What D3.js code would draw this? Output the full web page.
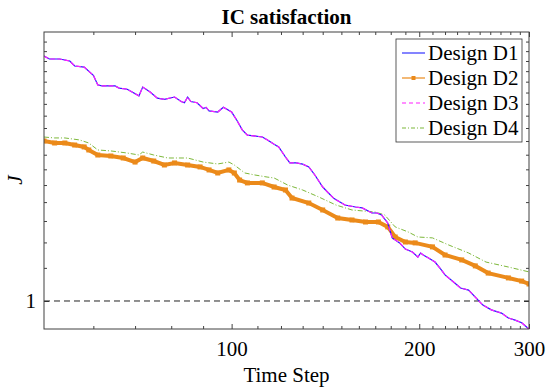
<!DOCTYPE html>
<html>
<head>
<meta charset="utf-8">
<script src="https://cdn.jsdelivr.net/npm/d3@7"></script>
<style>
body{margin:0;background:#fff}
text{font-family:"Liberation Serif","Times New Roman",serif;fill:#000}
</style>
</head>
<body>
<script>
// time steps and J values
var stepsD1 = [50,51,53,55,56,58,60,61,62,65,66,68,71,72,74,76,78,81,83,84,85,86,88,90,91,92,95,97,100,102,104,106,112,114,117,119,122,124,127,130,133,136,140,143,146,152,158,162,168,171,174,178,181,186,190,195,199,201,203,207,212,217,220,227,233,240,246,253,261,271,278,285,292,300];
var jD1 = [16.5,16.2,16.2,16.0,15.5,15.4,14.6,13.7,13.6,13.6,13.4,13.3,12.7,13.5,13.05,12.5,12.4,12.6,12.2,12.1,12.6,12.2,12.1,11.6,11.7,11.4,11.3,11.7,11.3,10.6,9.85,9.45,9.3,9.1,8.75,8.56,7.84,7.43,7.43,7.35,7.16,6.63,5.88,5.52,5.2,4.84,4.73,4.68,4.41,4.41,4.31,3.90,3.20,2.98,2.72,2.60,2.40,2.56,2.48,2.36,2.21,1.93,1.76,1.53,1.35,1.29,1.10,0.90,0.79,0.72,0.62,0.58,0.53,0.42];

var stepsD2 = [50,52,54,56,58,59,61,64,67,70,72,75,78,81,85,89,92,95,99,101,103,106,112,117,122,125,133,140,148,156,164,172,178,183,190,197,210,220,234,246,258,278,292,300];
var jD2 = [9.0,8.85,8.85,8.70,8.56,8.34,7.98,7.91,7.77,7.49,7.77,7.56,7.29,7.43,7.29,7.16,6.96,6.76,6.96,6.76,6.31,6.13,6.13,5.88,5.70,5.23,4.95,4.57,4.15,4.05,3.95,3.95,3.71,3.24,3.02,2.98,2.81,2.48,2.29,2.07,1.82,1.66,1.56,1.47];

// D3 lies on top of D1
var stepsD3 = stepsD1.slice();
var jD3 = jD1.slice();

var stepsD4 = [50,52,54,57,59,61,64,68,71,72,75,79,85,90,95,99,101,105,109,114,117,123,130,138,147,156,170,176,183,192,199,210,223,240,256,278,300];
var jD4 = [9.30,9.23,9.23,9.08,8.85,8.34,8.27,8.12,7.98,8.19,7.98,7.77,7.77,7.49,7.36,7.49,7.29,6.76,6.63,6.50,6.44,6.00,5.70,5.29,4.84,4.57,4.46,4.31,3.71,3.47,3.24,3.20,2.89,2.56,2.21,2.03,1.86];

var xMajor = [100,200,300];
var xMinor = d3.range(60,300,10).filter(function(d){return xMajor.indexOf(d)<0;});
var yMajor = [1];
var yMinor = d3.range(2,19);
var refLevel = 1;
var names = ["Design D1","Design D2","Design D3","Design D4"];

var width=550, height=389;
var L=44, R=529, T=32, B=329;
var axisColor="#404040";

var svg=d3.select("body").append("svg")
  .attr("width",width).attr("height",height);

var x=d3.scaleLog().domain([50,300]).range([L,R]);
var y=d3.scalePow().exponent(0.5).domain([0.4225,19.03]).range([B,T]);

svg.append("clipPath").attr("id","plot")
  .append("rect").attr("x",L).attr("y",T).attr("width",R-L).attr("height",B-T);

function styleAxis(g){
  g.select(".domain").remove();
  g.selectAll("line").attr("stroke",axisColor);
  g.selectAll("text").style("font-size","21px").attr("fill","#000");
}

// bottom
svg.append("g").attr("transform","translate(0,"+B+")")
  .call(d3.axisBottom(x).tickValues(xMinor).tickSize(-3).tickFormat(""))
  .call(styleAxis);
svg.append("g").attr("transform","translate(0,"+B+")")
  .call(d3.axisBottom(x).tickValues(xMajor).tickSize(-5).tickPadding(12).tickFormat(d3.format("d")))
  .call(styleAxis);
// top
svg.append("g").attr("transform","translate(0,"+T+")")
  .call(d3.axisTop(x).tickValues(xMinor).tickSize(-3).tickFormat(""))
  .call(styleAxis);
svg.append("g").attr("transform","translate(0,"+T+")")
  .call(d3.axisTop(x).tickValues(xMajor).tickSize(-5).tickFormat(""))
  .call(styleAxis);
// left
svg.append("g").attr("transform","translate("+L+",0)")
  .call(d3.axisLeft(y).tickValues(yMinor).tickSize(-3).tickFormat(""))
  .call(styleAxis);
svg.append("g").attr("transform","translate("+L+",0)")
  .call(d3.axisLeft(y).tickValues(yMajor).tickSize(-5).tickPadding(8).tickFormat(d3.format("d")))
  .call(styleAxis);
// right
svg.append("g").attr("transform","translate("+R+",0)")
  .call(d3.axisRight(y).tickValues(yMinor).tickSize(-3).tickFormat(""))
  .call(styleAxis);
svg.append("g").attr("transform","translate("+R+",0)")
  .call(d3.axisRight(y).tickValues(yMajor).tickSize(-5).tickFormat(""))
  .call(styleAxis);

// reference line J = 1
svg.append("line")
  .attr("x1",L).attr("x2",R).attr("y1",y(refLevel)).attr("y2",y(refLevel))
  .attr("stroke","#222").attr("stroke-width",1).attr("stroke-dasharray","6,4");

var plot=svg.append("g").attr("clip-path","url(#plot)");

function lineOf(steps,vals){
  return d3.line().x(function(d,i){return x(steps[i]);}).y(function(d){return y(d);})(vals);
}

var series=[
  {steps:stepsD1, vals:jD1, color:"#1f1fff", width:1.2, dash:null},
  {steps:stepsD2, vals:jD2, color:"#eb8a1a", width:4, dash:null, marker:true},
  {steps:stepsD3, vals:jD3, color:"#ff1fff", width:1.2, dash:"5,2"},
  {steps:stepsD4, vals:jD4, color:"#7db83a", width:1, dash:"5,2,1,2"}
];

// draw D4, D2, then D1 and D3 on top
[3,1,0,2].forEach(function(k){
  var s=series[k];
  plot.append("path").attr("d",lineOf(s.steps,s.vals))
    .attr("fill","none").attr("stroke",s.color).attr("stroke-width",s.width)
    .attr("stroke-dasharray",s.dash);
  if(s.marker){
    plot.selectAll(null).data(s.vals).enter().append("rect")
      .attr("x",function(d,i){return x(s.steps[i])-2.5;})
      .attr("y",function(d){return y(d)-2.5;})
      .attr("width",5).attr("height",5)
      .attr("fill",s.color);
  }
});

// frame
svg.append("rect").attr("x",L).attr("y",T).attr("width",R-L).attr("height",B-T)
  .attr("fill","none").attr("stroke",axisColor).attr("stroke-width",1);

// title and labels
svg.append("text").attr("x",(L+R)/2).attr("y",24).attr("text-anchor","middle")
  .style("font-size","21px").style("font-weight","bold").text("IC satisfaction");
svg.append("text").attr("x",(L+R)/2).attr("y",382).attr("text-anchor","middle")
  .style("font-size","21px").text("Time Step");
svg.append("text").attr("transform","translate(22,180) rotate(-90)").attr("text-anchor","middle")
  .style("font-size","21px").style("font-style","italic").text("J");

// legend
var lg=svg.append("g");
lg.append("rect").attr("x",396).attr("y",39).attr("width",126).attr("height",103)
  .attr("fill","#fff").attr("stroke","#333").attr("stroke-width",0.8);
names.forEach(function(n,i){
  var s=series[i], yy=53+i*25;
  lg.append("line").attr("x1",402).attr("x2",425).attr("y1",yy).attr("y2",yy)
    .attr("stroke",s.color).attr("stroke-width",s.marker?1.2:1.1).attr("stroke-dasharray",s.dash?(i===2?"4,3":"4,2,1,2"):null);
  if(s.marker){
    lg.append("rect").attr("x",411.5).attr("y",yy-2).attr("width",4).attr("height",4).attr("fill",s.color);
  }
  lg.append("text").attr("x",428).attr("y",yy).attr("dy","0.35em")
    .style("font-size","21px").text(n);
});
</script>
</body>
</html>
